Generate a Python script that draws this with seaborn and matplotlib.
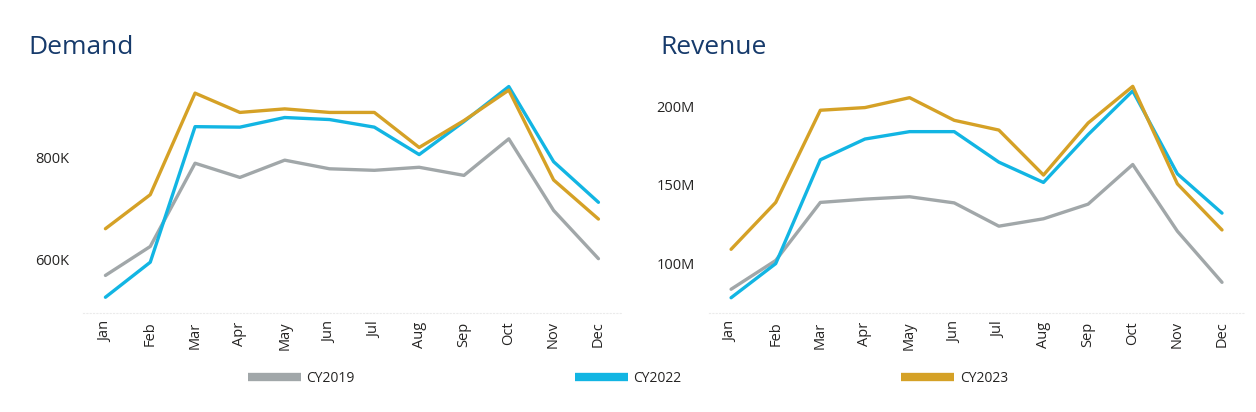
import numpy as np
import pandas as pd
import matplotlib
matplotlib.use("Agg")
import matplotlib.pyplot as plt
import seaborn as sns
from matplotlib.ticker import FuncFormatter

# datos
meses = ["Jan", "Feb", "Mar", "Apr", "May", "Jun", "Jul", "Aug", "Sep", "Oct", "Nov", "Dec"]
anios = ["CY2019", "CY2022", "CY2023"]

demanda_2019 = [568, 625, 789, 761, 795, 778, 775, 781, 765, 837, 696, 601]
demanda_2022 = [525, 594, 861, 860, 879, 875, 860, 806, 871, 940, 792, 712]
demanda_2023 = [660, 727, 927, 889, 896, 889, 889, 820, 873, 933, 756, 679]

ingresos_2019 = [83.7, 102, 138.9, 141, 142.5, 138.6, 123.8, 128.5, 137.8, 163, 120.6, 88.1]
ingresos_2022 = [78.3, 100, 166, 179.2, 183.9, 183.9, 164.5, 151.6, 182, 209.8, 157.1, 132.1]
ingresos_2023 = [109.1, 138.9, 197.5, 199.2, 205.5, 191.1, 184.9, 156.3, 189.4, 212.7, 150.7, 121.4]

colores = {"CY2019": "#a1a7a9", "CY2022": "#12b5e3", "CY2023": "#d5a126"}


def a_largo(series, escala):
    filas = []
    for anio, valores in zip(anios, series):
        for i, (mes, v) in enumerate(zip(meses, valores)):
            filas.append({"pos": i, "mes": mes, "anio": anio, "valor": v * escala})
    return pd.DataFrame(filas)


df_dem = a_largo([demanda_2019, demanda_2022, demanda_2023], 1e3)
df_ing = a_largo([ingresos_2019, ingresos_2022, ingresos_2023], 1e6)

sns.set_style("white")
plt.rcParams["font.family"] = ["Open Sans", "DejaVu Sans"]

fig = plt.figure(figsize=(12.56, 4.12), dpi=100)
ax1 = fig.add_axes([0.0661, 0.2403, 0.4282, 0.578])
ax2 = fig.add_axes([0.5643, 0.2403, 0.4264, 0.578])

color_texto = "#252423"


def dibujar(ax, df, ylim, ticks, fmt, titulo, x_titulo):
    sns.lineplot(data=df, x="pos", y="valor", hue="anio", palette=colores,
                 hue_order=anios, linewidth=2.4, ax=ax, legend=False)
    ax.set_xlim(-0.5, 11.5)
    ax.set_ylim(*ylim)
    ax.set_xticks(range(12))
    ax.set_xticklabels(meses, rotation=90, fontsize=10.5, color=color_texto)
    ax.set_yticks(ticks)
    ax.yaxis.set_major_formatter(FuncFormatter(fmt))
    ax.tick_params(axis="y", length=0, labelsize=10.5, labelcolor=color_texto, pad=10)
    ax.tick_params(axis="x", length=3, color="#e6e6e6", pad=3)
    ax.set_xlabel("")
    ax.set_ylabel("")
    for lado in ["top", "right", "left"]:
        ax.spines[lado].set_visible(False)
    ax.spines["bottom"].set_color("#ebebeb")
    ax.spines["bottom"].set_linestyle((0, (1, 2)))
    fig.text(x_titulo, 1 - 47 / 412, titulo, fontsize=19, color="#163a6b",
             va="center", ha="left")


dibujar(ax1, df_dem, (494e3, 963e3), [600e3, 800e3],
        lambda v, p: f"{v / 1e3:.0f}K", "Demand", 28 / 1256)
dibujar(ax2, df_ing, (68.6e6, 220e6), [100e6, 150e6, 200e6],
        lambda v, p: f"{v / 1e6:.0f}M", "Revenue", 660 / 1256)

handles = [plt.Line2D([], [], color=colores[a], linewidth=6, solid_capstyle="butt")
           for a in anios]
fig.legend(handles, anios, loc="center", bbox_to_anchor=(0.5, 1 - 378 / 412),
           ncol=3, frameon=False, handlelength=3.8, handletextpad=0.4,
           columnspacing=15.85, fontsize=10, labelcolor=color_texto)

fig.savefig("out.png", dpi=100)
